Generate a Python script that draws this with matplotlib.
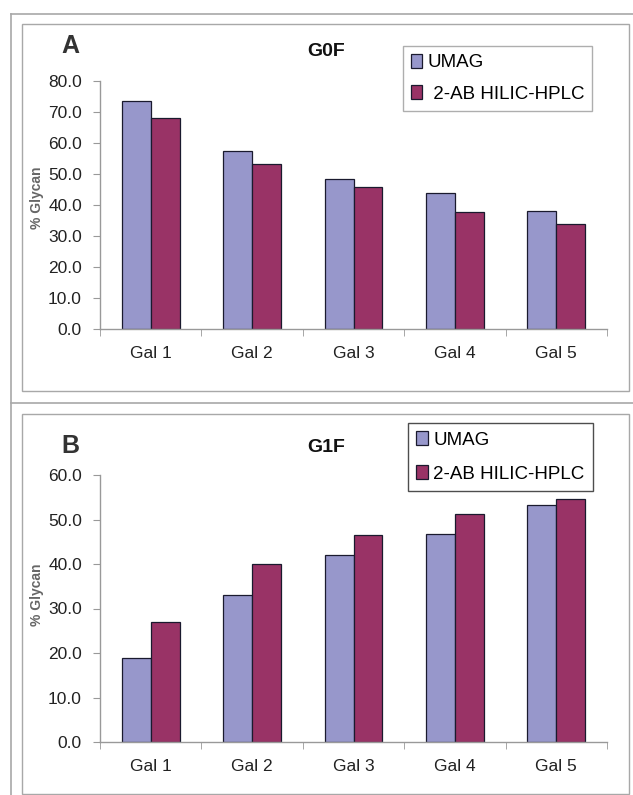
import numpy as np
import matplotlib
matplotlib.use('Agg')
import matplotlib.pyplot as plt
from matplotlib.patches import Rectangle
from matplotlib.lines import Line2D

plt.rcParams['font.family'] = ['Liberation Sans', 'DejaVu Sans']

categories = ['Gal 1', 'Gal 2', 'Gal 3', 'Gal 4', 'Gal 5']
series_names = ['UMAG', '2-AB HILIC-HPLC']
g0f_umag = [73.7, 57.3, 48.3, 44.0, 38.2]
g0f_hplc = [68.1, 53.1, 45.9, 37.9, 33.8]
g1f_umag = [18.9, 33.0, 42.0, 46.7, 53.3]
g1f_hplc = [27.0, 39.9, 46.5, 51.2, 54.5]

W, H = 633, 795
C_UMAG = '#9797cb'
C_HPLC = '#993366'
EDGE = '#1a1a2e'
FRAME = '#a8a8a8'


def fx(px):
    return px / W


def fy(py):
    return 1 - py / H


fig = plt.figure(figsize=(W / 100, H / 100), dpi=100)

# outer and inner frames (figure pixels)
fig.add_artist(Line2D([fx(11), fx(11)], [fy(14), fy(800)], color=FRAME, lw=1.2))
fig.add_artist(Line2D([fx(11), fx(640)], [fy(14), fy(14)], color=FRAME, lw=1.2))
fig.add_artist(Line2D([fx(11), fx(640)], [fy(403), fy(403)], color=FRAME, lw=1.2))
for (x0, y0, x1, y1) in [(22, 24, 629, 391), (22, 414, 629, 794)]:
    fig.add_artist(Rectangle((fx(x0), fy(y1)), fx(x1) - fx(x0), fy(y0) - fy(y1),
                             fill=False, edgecolor=FRAME, lw=1.0, transform=fig.transFigure))


def panel(rect, umag, hplc, ymax, letter, title, letter_y, title_y, leg_xy, leg_edge,
          hplc_label, lspace, bpad, lab_y):
    ax = fig.add_axes(rect)
    x = np.arange(len(categories))
    w = 0.2857
    ax.bar(x - w / 2, umag, w, color=C_UMAG, edgecolor=EDGE, lw=0.9, label=series_names[0])
    ax.bar(x + w / 2, hplc, w, color=C_HPLC, edgecolor=EDGE, lw=0.9, label=hplc_label)
    ax.set_xlim(-0.5, 4.5)
    ax.set_ylim(0, ymax)
    ax.set_yticks(np.arange(0, ymax + 1, 10))
    ax.set_yticklabels([f'{v:.1f}' for v in np.arange(0, ymax + 1, 10)])
    ax.set_xticks(x)
    ax.set_xticklabels(categories)
    ax.set_xticks(np.arange(-0.5, 5, 1), minor=True)
    ax.tick_params(axis='x', which='major', length=0, pad=12, labelsize=12.5, colors='#222222')
    ax.tick_params(axis='x', which='minor', length=5, color='#999999', direction='out')
    ax.tick_params(axis='y', length=5, color='#999999', pad=8, labelsize=12.5, labelcolor='#222222')
    for s in ['top', 'right']:
        ax.spines[s].set_visible(False)
    for s in ['left', 'bottom']:
        ax.spines[s].set_color('#999999')
        ax.spines[s].set_linewidth(1.0)
    ax.set_ylabel('% Glycan', fontsize=10, fontweight='bold', color='#666666')
    ax.yaxis.set_label_coords(-0.110, lab_y)
    fig.text(fx(70), fy(letter_y), letter, fontsize=18, fontweight='bold', color='#333333',
             ha='center', va='center')
    fig.text(fx(326), fy(title_y), title, fontsize=14, fontweight='bold', color='#111111',
             ha='center', va='center')
    leg = fig.legend(*ax.get_legend_handles_labels(), loc='upper left',
                     bbox_to_anchor=(fx(leg_xy[0]), fy(leg_xy[1])), frameon=True,
                     fancybox=False, edgecolor=leg_edge, fontsize=13.5,
                     handlelength=0.6, handleheight=0.75, handletextpad=0.3,
                     labelspacing=lspace, borderpad=bpad, borderaxespad=0)
    leg.get_frame().set_linewidth(1.0)
    return ax


panel([fx(100), fy(329), fx(607) - fx(100), fy(81) - fy(329)], g0f_umag, g0f_hplc, 80,
      'A', 'G0F', 46, 52, (403, 46), '#9a9a9a', ' 2-AB HILIC-HPLC', 0.75, 0.42, 0.53)
panel([fx(100), fy(742), fx(607) - fx(100), fy(475) - fy(742)], g1f_umag, g1f_hplc, 60,
      'B', 'G1F', 446, 448, (408, 423), '#222222', '2-AB HILIC-HPLC', 0.88, 0.45, 0.55)

fig.savefig('out.png', dpi=100)
